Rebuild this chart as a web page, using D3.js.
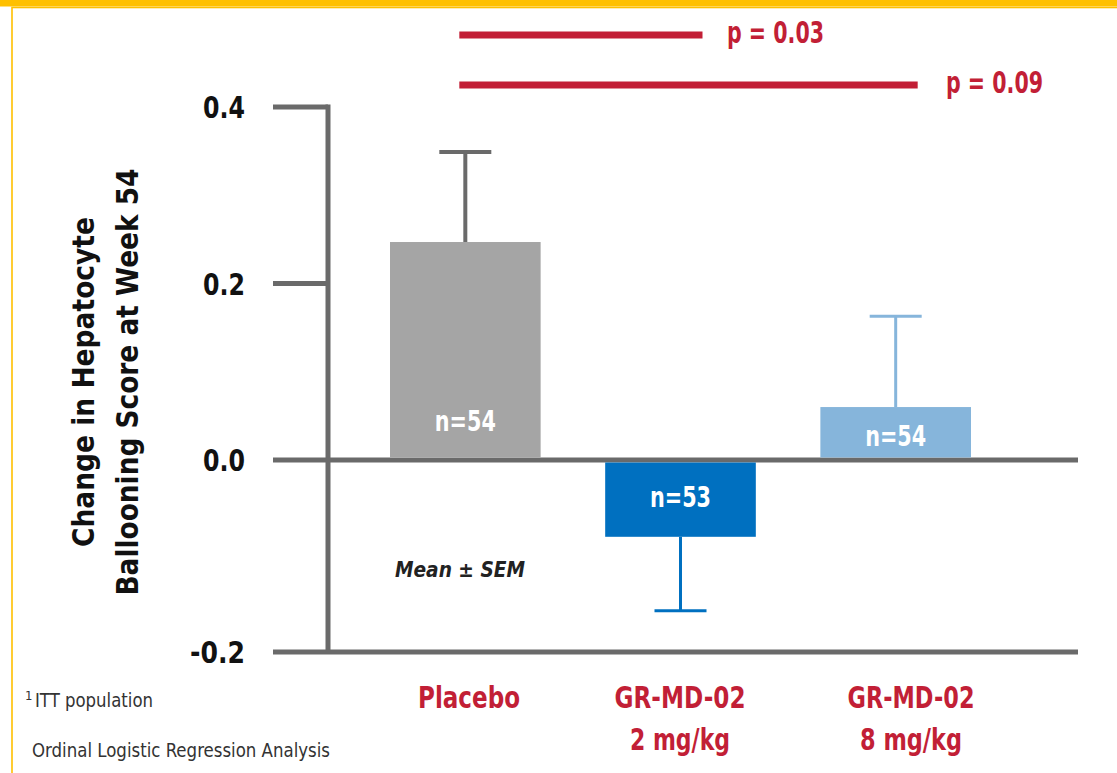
<!DOCTYPE html>
<html>
<head>
<meta charset="utf-8">
<script src="https://cdn.jsdelivr.net/npm/d3@7"></script>
<style>
  html, body { margin: 0; padding: 0; background: #fff; }
  svg { display: block; }
  text { font-family: "DejaVu Sans Condensed", "Liberation Sans Narrow", "Roboto", sans-serif; }
</style>
</head>
<body>
<svg id="chart" width="1117" height="773"></svg>
<script>
// Change in hepatocyte ballooning score at week 54, mean ± SEM
const groups = ["Placebo", "GR-MD-02 2 mg/kg", "GR-MD-02 8 mg/kg"];
const groupLines = [["Placebo"], ["GR-MD-02", "2 mg/kg"], ["GR-MD-02", "8 mg/kg"]];
const means = [0.247, -0.080, 0.060];
const sems = [0.102, 0.077, 0.103];
const nLabels = ["n=54", "n=53", "n=54"];
const barColors = ["#a5a5a5", "#0070c0", "#86b5db"];
const errColors = ["#6a6a6a", "#0070c0", "#86b5db"];
const yTicks = [0.4, 0.2, 0.0, -0.2];
const comparisons = [
  { from: 0, to: 1, label: "p = 0.03" },
  { from: 0, to: 2, label: "p = 0.09" }
];
const footnotes = ["ITT population", "Ordinal Logistic Regression Analysis"];

const svg = d3.select("#chart");
const axisGray = "#6a6a6a";
const red = "#c21f36";

// squeeze a label into a narrow, condensed width
function fit(sel, w) {
  return sel.attr("textLength", w).attr("lengthAdjust", "spacingAndGlyphs");
}

// frame
svg.append("rect").attr("x", 0).attr("y", 0).attr("width", 1117).attr("height", 6.5).attr("fill", "#ffc000");
svg.append("rect").attr("x", 12).attr("y", 7.5).attr("width", 1130).attr("height", 800)
  .attr("fill", "none").attr("stroke", "#ffc000").attr("stroke-width", 1.6);

// scales: axis drawn with its own spacing below zero
const y = d3.scaleLinear().domain([-0.2, 0, 0.4]).range([652, 460, 107]);
const x = d3.scaleBand().domain(groups).range([390, 971]).paddingInner(0.3).paddingOuter(0);

const axisX = 328, tickX0 = 273, rightX = 1078;
const fmt = t => d3.format(".1f")(t).replace("\u2212", "-");

// ticks and labels
const tickG = svg.append("g");
yTicks.forEach(t => {
  tickG.append("line").attr("x1", tickX0).attr("x2", t === 0 || t === -0.2 ? rightX : axisX)
    .attr("y1", y(t)).attr("y2", y(t)).attr("stroke", axisGray).attr("stroke-width", 5);
  const lbl = tickG.append("text").attr("x", 245).attr("y", y(t)).attr("dy", "0.36em")
    .attr("text-anchor", "end").attr("font-size", 31).attr("font-weight", "bold")
    .attr("fill", "#111").text(fmt(t));
  fit(lbl, t < 0 ? 55 : 42);
});
svg.append("line").attr("x1", axisX).attr("x2", axisX).attr("y1", y(0.4) - 2.5).attr("y2", y(-0.2))
  .attr("stroke", axisGray).attr("stroke-width", 5);

// error bars (stem from mean outward)
groups.forEach((g, i) => {
  const cx = x(g) + x.bandwidth() / 2;
  const end = means[i] >= 0 ? means[i] + sems[i] : means[i] - sems[i];
  const w = i === 0 ? 4 : 3;
  svg.append("line").attr("x1", cx).attr("x2", cx).attr("y1", y(means[i])).attr("y2", y(end))
    .attr("stroke", errColors[i]).attr("stroke-width", w);
  svg.append("line").attr("x1", cx - 26).attr("x2", cx + 26).attr("y1", y(end)).attr("y2", y(end))
    .attr("stroke", errColors[i]).attr("stroke-width", w);
});

// bars
svg.selectAll("rect.bar").data(groups).join("rect").attr("class", "bar")
  .attr("x", d => x(d))
  .attr("width", x.bandwidth())
  .attr("y", (d, i) => means[i] >= 0 ? y(means[i]) : y(0) + 2.5)
  .attr("height", (d, i) => means[i] >= 0 ? y(0) - 2.5 - y(means[i]) : y(means[i]) - y(0) - 2.5)
  .attr("fill", (d, i) => barColors[i]);

// n labels
const nY = [421, 497, 436];
groups.forEach((g, i) => {
  const t = svg.append("text").attr("x", x(g) + x.bandwidth() / 2).attr("y", nY[i]).attr("dy", "0.36em")
    .attr("text-anchor", "middle").attr("font-size", 28).attr("font-weight", "bold")
    .attr("fill", "#fff").text(nLabels[i]);
  fit(t, 61);
});

// significance brackets
const brY = [35, 85];
const pX = [727, 946];
comparisons.forEach((c, k) => {
  const x1 = x(groups[c.from]) + x.bandwidth() / 2 - 6;
  const x2 = x(groups[c.to]) + x.bandwidth() / 2 + 22;
  svg.append("line").attr("x1", x1).attr("x2", x2).attr("y1", brY[k]).attr("y2", brY[k])
    .attr("stroke", red).attr("stroke-width", 7);
  const t = svg.append("text").attr("x", pX[k]).attr("y", brY[k] - 3).attr("dy", "0.36em")
    .attr("font-size", 31).attr("font-weight", "bold").attr("fill", red).text(c.label);
  fit(t, 97);
});

// category labels
const catX = [469, 680, 911];
const catW = [[102], [131, 100], [127, 102]];
groupLines.forEach((lines, i) => {
  lines.forEach((ln, j) => {
    const t = svg.append("text").attr("x", catX[i]).attr("y", 697 + j * 42).attr("dy", "0.36em")
      .attr("text-anchor", "middle").attr("font-size", 30).attr("font-weight", "bold")
      .attr("fill", red).text(ln);
    fit(t, catW[i][j]);
  });
});

// y-axis title
const title = svg.append("text").attr("transform", "translate(105,382) rotate(-90)")
  .attr("text-anchor", "middle").attr("font-size", 30).attr("font-weight", "bold").attr("fill", "#111");
fit(title.append("tspan").attr("x", 0).attr("y", -22).attr("dy", "0.36em").text("Change in Hepatocyte"), 330);
fit(title.append("tspan").attr("x", 0).attr("y", 22).attr("dy", "0.36em").text("Ballooning Score at Week 54"), 427);

// statistic note
fit(svg.append("text").attr("x", 395).attr("y", 569).attr("dy", "0.36em")
  .attr("font-size", 21).attr("font-weight", "bold").attr("font-style", "italic")
  .attr("fill", "#222").text("Mean ± SEM"), 130);

// footnotes
const fn1 = svg.append("text").attr("x", 25).attr("y", 704).attr("dy", "0.36em")
  .attr("font-size", 20).attr("fill", "#333");
fn1.append("tspan").attr("font-size", 13).attr("dy", "-0.3em").text("1");
fit(fn1.append("tspan").attr("x", 35).attr("dy", "0.35em").text(footnotes[0]), 118);
fit(svg.append("text").attr("x", 32).attr("y", 750).attr("dy", "0.36em")
  .attr("font-size", 20).attr("fill", "#333").text(footnotes[1]), 298);
</script>
</body>
</html>
